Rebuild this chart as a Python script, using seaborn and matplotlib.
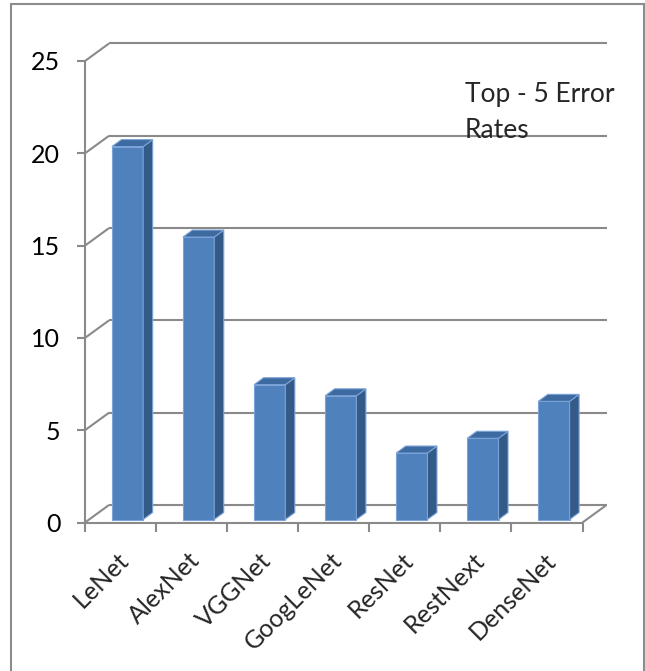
import numpy as np
import pandas as pd
import matplotlib
matplotlib.use("Agg")
import matplotlib.pyplot as plt
from matplotlib.patches import Polygon, Rectangle
from matplotlib.transforms import ScaledTranslation
import seaborn as sns

# Top-5 error rates of well-known CNN architectures
models = ["LeNet", "AlexNet", "VGGNet", "GoogLeNet", "ResNet", "RestNext", "DenseNet"]
top5_error = [20.2, 15.3, 7.3, 6.7, 3.6, 4.4, 6.4]
y_ticks = [0, 5, 10, 15, 20, 25]
title_lines = ["Top - 5 Error", "Rates"]

W, H, DPI = 645, 671, 100
sns.set_style("white")
plt.rcParams["font.family"] = ["Lato", "DejaVu Sans"]

GRID = "#8a8a8a"
FACE = "#4F81BD"
TOP = "#3D6AA0"
SIDE = "#345A87"
EDGE = "#7BA3D8"

fig = plt.figure(figsize=(W / DPI, H / DPI), dpi=DPI)

# front plane of the 3-D box, in pixels
x0, x1 = 85, 582.5
y_top, y_bot = 61, 522.5
ax = fig.add_axes([x0 / W, 1 - y_bot / H, (x1 - x0) / W, (y_bot - y_top) / H])

df = pd.DataFrame({"model": models, "error": top5_error})
sns.barplot(data=df, x="model", y="error", width=0.44, color=FACE, saturation=1,
            edgecolor=EDGE, linewidth=0.8, ax=ax, zorder=3)

n = len(models)
ax.set_xlim(-0.5, n - 0.5)
ax.set_ylim(0, y_ticks[-1])
for s in ax.spines.values():
    s.set_visible(False)
ax.set_xlabel("")
ax.set_ylabel("")

px_x = (x1 - x0) / n
px_y = (y_bot - y_top) / y_ticks[-1]


def off(dx_px, dy_px):
    return dx_px / px_x, dy_px / px_y


wall = off(24, 17.5)
front = off(7, 3)
depth = off(9.5, 7)

line_kw = dict(color=GRID, lw=1.5, clip_on=False, solid_capstyle="butt")

# back wall gridlines and the left-wall diagonals
for v in y_ticks:
    ax.plot([-0.5 + wall[0], n - 0.5 + wall[0]], [v + wall[1]] * 2, zorder=1, **line_kw)
    ax.plot([-0.5, -0.5 + wall[0]], [v, v + wall[1]], zorder=1, **line_kw)
# front-left vertical axis and floor edges
ax.plot([-0.5, -0.5], [0, y_ticks[-1]], zorder=2, **line_kw)
ax.plot([-0.5, n - 0.5], [0, 0], zorder=5, **line_kw)
ax.plot([n - 0.5, n - 0.5 + wall[0]], [0, wall[1]], zorder=1, **line_kw)

# turn flat bars into extruded boxes
for p in list(ax.patches):
    x, w, h = p.get_x(), p.get_width(), p.get_height()
    x += front[0]
    y = front[1]
    p.set_x(x)
    p.set_y(y)
    side = [(x + w, y), (x + w + depth[0], y + depth[1]),
            (x + w + depth[0], y + h + depth[1]), (x + w, y + h)]
    top = [(x, y + h), (x + w, y + h),
           (x + w + depth[0], y + h + depth[1]), (x + depth[0], y + h + depth[1])]
    ax.add_patch(Polygon(side, closed=True, facecolor=SIDE, edgecolor=EDGE,
                         lw=0.8, zorder=3, clip_on=False))
    ax.add_patch(Polygon(top, closed=True, facecolor=TOP, edgecolor=EDGE,
                         lw=0.8, zorder=3, clip_on=False))
    p.set_clip_on(False)

# y ticks on the front-left axis
ax.set_yticks(y_ticks)
ax.set_yticklabels([str(v) for v in y_ticks])
ax.tick_params(axis="y", left=True, length=5.8, width=1.5, color=GRID, pad=12,
               labelsize=18, labelcolor="black")

# x ticks at category boundaries, labels rotated under each bar
ax.set_xticks(np.arange(-0.5, n, 1.0))
ax.set_xticklabels([])
ax.tick_params(axis="x", bottom=True, length=6.5, width=1.5, color=GRID)
lab_tf = ax.get_xaxis_transform() + ScaledTranslation(13 / DPI, -26 / DPI, fig.dpi_scale_trans)
for i, name in enumerate(models):
    ax.text(i, 0, name, rotation=45, ha="right", va="top", fontsize=18,
            transform=lab_tf)

# chart title inside the plot area
fig.text(465 / W, 1 - 101.7 / H, title_lines[0], fontsize=19, va="baseline", ha="left")
fig.text(465 / W, 1 - 138.5 / H, title_lines[1], fontsize=19, va="baseline", ha="left")

# outer chart border
fig.add_artist(Rectangle((11 / W, -0.1), (644 - 11) / W, 1 - 4 / H + 0.1,
                         transform=fig.transFigure, fill=False,
                         edgecolor="#8c8c8c", lw=1.5))

fig.savefig("out.png", dpi=DPI)
